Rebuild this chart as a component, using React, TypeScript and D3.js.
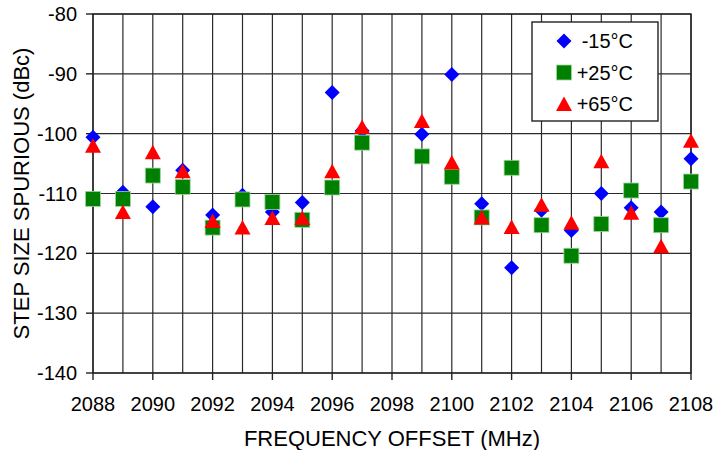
import React from "react"
import * as d3 from "d3"

// frequency offset (MHz); 2098 has no measurement
const freqs = [2088, 2089, 2090, 2091, 2092, 2093, 2094, 2095, 2096, 2097, 2098, 2099, 2100, 2101, 2102, 2103, 2104, 2105, 2106, 2107, 2108]

const minus15 = [-100.6, -109.8, -112.2, -106.1, -113.6, -110.3, -113.1, -111.5, -93.1, -99.5, null, -100.1, -90.1, -111.7, -122.4, -112.8, -116.2, -110.0, -112.4, -113.1, -104.2]
const plus25 = [-110.9, -110.9, -107.0, -108.9, -115.7, -111.0, -111.4, -114.4, -109.0, -101.5, null, -103.8, -107.2, -114.0, -105.7, -115.3, -120.4, -115.1, -109.5, -115.3, -108.0]
const plus65 = [-102.0, -113.1, -103.1, -106.3, -114.6, -115.7, -114.1, -114.1, -106.3, -98.9, null, -97.9, -104.8, -114.0, -115.6, -111.9, -114.9, -104.6, -113.2, -118.8, -101.2]

const xTicks = [2088, 2090, 2092, 2094, 2096, 2098, 2100, 2102, 2104, 2106, 2108]
const yTicks = [-140, -130, -120, -110, -100, -90, -80]
const seriesNames = ["-15°C", "+25°C", "+65°C"]

const W = 716
const H = 450
const margin = { top: 14, right: 25, bottom: 77, left: 93 }
const font = "'Liberation Sans', Arial, Helvetica, sans-serif"

function Marker({ kind, x, y }: { kind: number; x: number; y: number }) {
  if (kind === 0) {
    return <path d={`M${x},${y - 7.5}L${x + 7.5},${y}L${x},${y + 7.5}L${x - 7.5},${y}Z`} fill="#0000ff" />
  }
  if (kind === 1) {
    return <rect x={x - 7.5} y={y - 7.5} width={15} height={15} fill="#008000" stroke="#9fd49f" strokeWidth={0.8} />
  }
  return <path d={`M${x},${y - 7.5}L${x + 8},${y + 7}L${x - 8},${y + 7}Z`} fill="#ff0000" />
}

export default function App() {
  const x = d3.scaleLinear().domain([2088, 2108]).range([margin.left, W - margin.right])
  const y = d3.scaleLinear().domain([-140, -80]).range([H - margin.bottom, margin.top])
  const minorX = d3.range(2088, 2109, 1)
  const series = [minus15, plus25, plus65]

  const left = x(2088)
  const right = x(2108)
  const top = y(-80)
  const bottom = y(-140)

  return (
    <svg width={W} height={H} style={{ position: "absolute", left: 0, top: 0, background: "#fff" }} fontFamily={font}>
      <rect width={W} height={H} fill="#fff" />
      {/* grid */}
      <g stroke="#2a2a2a" strokeWidth={1.2}>
        {minorX.map((f) => (
          <line key={"gx" + f} x1={x(f)} x2={x(f)} y1={top} y2={bottom} />
        ))}
        {yTicks.map((v) => (
          <line key={"gy" + v} x1={left} x2={right} y1={y(v)} y2={y(v)} />
        ))}
      </g>
      {/* frame and ticks */}
      <rect x={left} y={top} width={right - left} height={bottom - top} fill="none" stroke="#222" strokeWidth={1.4} />
      <g stroke="#222" strokeWidth={1.4}>
        {xTicks.map((f) => (
          <line key={"tx" + f} x1={x(f)} x2={x(f)} y1={bottom} y2={bottom + 7} />
        ))}
        {yTicks.map((v) => (
          <line key={"ty" + v} x1={left - 7} x2={left} y1={y(v)} y2={y(v)} />
        ))}
      </g>
      <g fontSize={20} fill="#000">
        {xTicks.map((f) => (
          <text key={"lx" + f} x={x(f)} y={bottom + 38} textAnchor="middle">
            {f}
          </text>
        ))}
        {yTicks.map((v) => (
          <text key={"ly" + v} x={left - 16} y={y(v) + 7} textAnchor="end">
            {v}
          </text>
        ))}
      </g>
      <text x={(left + right) / 2} y={446} fontSize={22} textAnchor="middle">
        FREQUENCY OFFSET (MHz)
      </text>
      <text transform={`translate(29, ${(top + bottom) / 2}) rotate(-90)`} fontSize={22} textAnchor="middle">
        STEP SIZE SPURIOUS (dBc)
      </text>
      {/* data */}
      {series.map((vals, si) => (
        <g key={"s" + si}>
          {vals.map((v, i) =>
            v === null ? null : <Marker key={i} kind={si} x={x(freqs[i])} y={y(v)} />
          )}
        </g>
      ))}
      {/* legend */}
      <g>
        <rect x={532} y={22} width={126} height={99} fill="#fff" stroke="#222" strokeWidth={1.4} />
        {seriesNames.map((name, i) => {
          const ly = 41 + i * 31.5
          return (
            <g key={name}>
              <Marker kind={i} x={564} y={ly} />
              <text x={633} y={ly + 7} fontSize={20} textAnchor="end">
                {name}
              </text>
            </g>
          )
        })}
      </g>
    </svg>
  )
}
